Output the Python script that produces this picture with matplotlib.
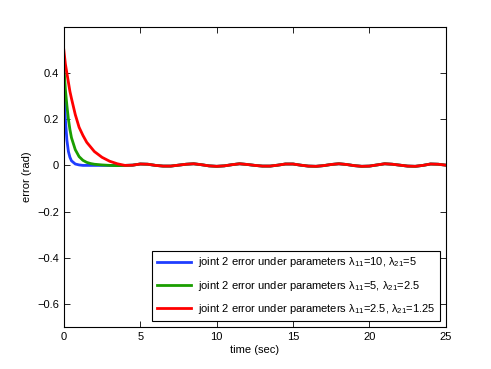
import matplotlib
matplotlib.use('Agg')
import matplotlib.pyplot as plt

plt.rcParams['font.family'] = ['Liberation Sans', 'DejaVu Sans']
plt.rcParams['mathtext.fontset'] = 'custom'
plt.rcParams['mathtext.rm'] = 'Liberation Sans'
plt.rcParams['mathtext.it'] = 'Liberation Sans'

# time samples (sec)
time_start = [0, 0.1, 0.2, 0.3, 0.4, 0.5, 0.75, 1.0, 1.25, 1.5, 1.75, 2.0, 2.5, 3.0, 3.5]
time_tail = [4.0, 4.5, 5.0, 5.5, 6.0, 6.5, 7.0, 7.5, 8.0, 8.5, 9.0, 9.5, 10.0, 10.5,
             11.0, 11.5, 12.0, 12.5, 13.0, 13.5, 14.0, 14.5, 15.0, 15.5, 16.0, 16.5,
             17.0, 17.5, 18.0, 18.5, 19.0, 19.5, 20.0, 20.5, 21.0, 21.5, 22.0, 22.5,
             23.0, 23.5, 24.0, 24.5, 25.0]

# transient part of the error (rad)
err_blue_start = [0.40, 0.20, 0.11, 0.06, 0.035, 0.02, 0.006, 0.002, 0.0, 0.0, 0.0, 0.0, 0.0, 0.0, 0.0]
err_green_start = [0.43, 0.33, 0.26, 0.20, 0.155, 0.12, 0.068, 0.038, 0.022, 0.013, 0.008, 0.005, 0.002, 0.0, -0.001]
err_red_start = [0.50, 0.44, 0.40, 0.36, 0.32, 0.29, 0.22, 0.165, 0.13, 0.10, 0.08, 0.06, 0.035, 0.018, 0.007]

# steady state ripple, common to all three
err_tail = [0.000, 0.001, 0.006, 0.005, 0.000, -0.003, -0.003, 0.001, 0.005, 0.007,
            0.003, -0.002, -0.004, -0.002, 0.003, 0.007, 0.004, 0.000, -0.003, -0.003,
            0.001, 0.006, 0.006, 0.001, -0.003, -0.004, -0.001, 0.004, 0.007, 0.004,
            -0.001, -0.004, -0.003, 0.002, 0.007, 0.005, 0.001, -0.003, -0.004, 0.000,
            0.006, 0.005, 0.001]

labels = [
    'joint 2 error under parameters λ$_{11}$=10, λ$_{21}$=5',
    'joint 2 error under parameters λ$_{11}$=5, λ$_{21}$=2.5',
    'joint 2 error under parameters λ$_{11}$=2.5, λ$_{21}$=1.25',
]
colours = ['#1f3dff', '#1a9e00', '#ff0000']


def main():
    fig = plt.figure(figsize=(4.91, 3.69), dpi=100)
    ax = fig.add_axes([0.13, 0.114, 0.778, 0.813])

    t = time_start + time_tail
    series = [err_blue_start + err_tail, err_green_start + err_tail, err_red_start + err_tail]
    for err, lab, col in zip(series, labels, colours):
        ax.plot(t, err, color=col, linewidth=2.0, label=lab)

    ax.set_xlim(0, 25)
    ax.set_ylim(-0.7, 0.6)
    ax.set_xticks([0, 5, 10, 15, 20, 25])
    ax.set_yticks([-0.6, -0.4, -0.2, 0, 0.2, 0.4])
    ax.set_yticklabels(['\u22120.6', '\u22120.4', '\u22120.2', '0', '0.2', '0.4'])
    ax.tick_params(direction='in', top=True, right=True, labelsize=8, length=4, width=0.6)
    for sp in ax.spines.values():
        sp.set_linewidth(0.8)
    ax.set_xlabel('time (sec)', fontsize=8, labelpad=2)
    ax.set_ylabel('error (rad)', fontsize=8, labelpad=4)

    leg = ax.legend(loc='lower right', fontsize=8, fancybox=False, framealpha=1,
                    edgecolor='black', handlelength=3.1, borderaxespad=0.55,
                    labelspacing=0.85, handletextpad=0.6)
    leg.get_frame().set_linewidth(0.8)

    fig.savefig('out.png', dpi=100)


if __name__ == '__main__':
    main()
